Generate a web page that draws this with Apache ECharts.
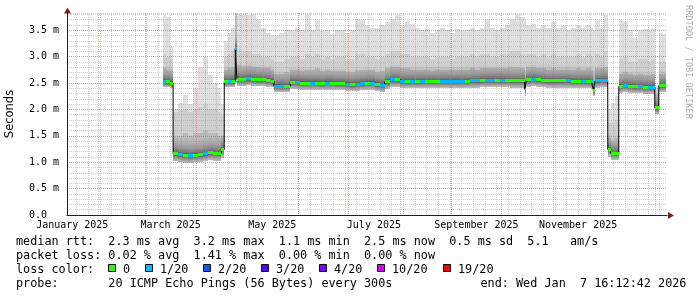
<!DOCTYPE html>
<html><head><meta charset="utf-8">
<script src="https://cdn.jsdelivr.net/npm/echarts@6/dist/echarts.min.js"></script>
<style>html,body{margin:0;padding:0;background:#fff}#c{width:697px;height:297px}</style>
</head><body><div id="c"></div>
<script>
// ---------- DATA (days since 2025-01-01 00:00 UTC, values in ms) ----------
const days = [70,72,74,76,79,82,85,88,91,94,97,100,103,105,106.7,109,111,113.3,114.3,117,
  120,123,126,129,132,135,136.5,139.5,142.5,146.3,149,152,155,158,161,164,167,170,173,176,
  179,182,185,188,191,194,197,200,203,206,209,212,215,218,221,224,227,230,233,236,
  239,242,245,248,251,254,257,260,263,266,269,272,275,278,281,284,287,288,291,294,
  297,300,303,306,309,312,315,318,321,324,327,328.2,329.2,332,334.5,336.8,338.5,341,343.4,346,
  349,352,355,358,361,363,365,367.4,369.5];
const endDay = 371.6;
const median = [2.53,2.52,2.50,1.16,1.14,1.13,1.12,1.13,1.14,1.16,1.18,1.17,1.17,1.24,2.53,2.53,2.53,3.15,2.57,2.57,
  2.58,2.57,2.56,2.56,2.55,2.53,2.44,2.44,2.44,2.51,2.51,2.50,2.50,2.50,2.50,2.49,2.50,2.50,2.49,2.49,
  2.48,2.47,2.48,2.49,2.50,2.50,2.47,2.46,2.52,2.56,2.56,2.53,2.53,2.53,2.53,2.53,2.53,2.53,2.53,2.53,
  2.53,2.53,2.53,2.53,2.53,2.54,2.54,2.55,2.55,2.55,2.55,2.55,2.55,2.54,2.54,2.54,2.38,2.56,2.57,2.56,
  2.55,2.54,2.54,2.54,2.54,2.54,2.53,2.53,2.53,2.53,2.52,2.36,2.54,2.55,2.55,1.24,1.17,1.17,2.44,2.45,
  2.44,2.43,2.43,2.42,2.42,2.42,2.03,2.45,2.45];
const loss = [1,0,0,0,1,0,1,0,0,1, 0,0,0,0,0,1,0,1,0,0, 1,0,0,0,0,0,1,1,0,0, 1,0,0,1,0,0,1,0,0,0,
  1,0,1,1,0,1,0,1,0,1, 0,1,0,1,0,1,0,0,0,1, 1,1,1,1,0,1,1,0,1,1, 0,1,0,0,0,0,1,0,1,0,
  0,0,0,0,0,1,0,0,1,0, 1,0,1,1,1,0,0,0,0,1, 0,0,1,0,1,1,0,0,0];
const smokeMax = [3.78,3.75,3.2,2.0,2.12,2.28,2.1,2.4,2.8,3.0,2.65,2.5,2.4,2.1,3.3,3.45,3.55,3.83,3.8,3.8,
  3.78,3.8,3.72,3.55,3.45,3.4,3.4,3.45,3.5,3.5,3.55,3.5,3.78,3.5,3.7,3.48,3.5,3.42,3.5,3.5,
  3.45,3.5,3.72,3.7,3.6,3.55,3.55,3.6,3.65,3.72,3.78,3.6,3.68,3.62,3.55,3.5,3.52,3.45,3.5,3.55,
  3.5,3.45,3.52,3.48,3.5,3.55,3.5,3.55,3.72,3.55,3.5,3.55,3.6,3.72,3.8,3.75,3.7,3.6,3.62,3.55,
  3.6,3.55,3.65,3.55,3.58,3.5,3.55,3.6,3.55,3.6,3.55,3.5,3.7,3.55,3.78,2.0,2.12,2.25,3.7,3.68,
  3.5,3.35,3.5,3.52,3.5,3.55,2.45,3.45,3.42];
const smokeMid = [3.05,3.0,2.95,1.95,1.98,2.0,1.95,2.0,2.05,2.1,2.0,2.0,1.95,1.9,3.0,3.05,3.1,3.83,3.15,3.1,
  3.1,3.05,3.05,3.0,3.0,2.95,2.9,2.9,2.95,3.0,3.0,2.95,3.05,3.0,3.05,2.95,3.0,2.95,3.0,3.0,
  2.95,2.95,3.05,3.05,3.0,3.0,2.95,3.0,3.05,3.1,3.1,3.05,3.05,3.0,3.0,3.0,3.0,2.95,3.0,3.0,
  3.0,2.95,3.0,3.0,3.0,3.05,3.0,3.05,3.05,3.0,3.0,3.05,3.05,3.1,3.1,3.05,3.0,3.05,3.05,3.0,
  3.05,3.0,3.05,3.0,3.0,3.0,3.0,3.05,3.0,3.05,3.0,2.95,3.05,3.0,3.1,1.75,1.75,1.8,2.95,3.0,
  2.9,2.9,2.95,2.95,2.9,2.95,2.4,2.9,2.9];
const smokeQ = [2.78,2.75,2.72,1.5,1.5,1.55,1.5,1.55,1.55,1.6,1.55,1.55,1.5,1.5,2.75,2.78,2.8,3.83,2.85,2.82,
  2.82,2.8,2.8,2.78,2.78,2.75,2.68,2.68,2.7,2.75,2.75,2.72,2.75,2.75,2.78,2.72,2.75,2.72,2.72,2.72,
  2.7,2.7,2.75,2.75,2.75,2.75,2.7,2.72,2.78,2.8,2.8,2.78,2.78,2.75,2.75,2.75,2.75,2.72,2.75,2.75,
  2.75,2.75,2.75,2.75,2.75,2.78,2.75,2.78,2.78,2.78,2.78,2.78,2.78,2.8,2.8,2.78,2.75,2.8,2.8,2.78,
  2.78,2.75,2.78,2.75,2.75,2.75,2.75,2.78,2.75,2.78,2.75,2.72,2.78,2.78,2.8,1.45,1.4,1.45,2.68,2.7,
  2.68,2.65,2.68,2.65,2.65,2.68,2.3,2.68,2.68];
const smokeMin = [2.42,2.42,2.4,1.02,1.0,0.99,0.99,1.0,1.0,1.02,1.04,1.03,1.03,1.08,2.42,2.42,2.42,2.5,2.45,2.45,
  2.46,2.45,2.44,2.44,2.43,2.42,2.33,2.33,2.33,2.38,2.38,2.37,2.37,2.37,2.37,2.36,2.37,2.37,2.36,2.36,
  2.35,2.34,2.35,2.36,2.37,2.37,2.34,2.33,2.39,2.43,2.43,2.4,2.4,2.4,2.4,2.4,2.4,2.4,2.4,2.4,
  2.4,2.4,2.4,2.4,2.4,2.41,2.41,2.42,2.42,2.42,2.42,2.42,2.42,2.41,2.41,2.41,2.25,2.43,2.44,2.43,
  2.42,2.41,2.41,2.41,2.41,2.41,2.4,2.4,2.4,2.4,2.39,2.25,2.41,2.42,2.42,1.1,1.04,1.04,2.32,2.33,
  2.32,2.31,2.31,2.3,2.3,2.3,1.92,2.33,2.33];

const yTickVals = [0,0.5,1,1.5,2,2.5,3,3.5];
const yTickLabels = ['0.0  ','0.5 m','1.0 m','1.5 m','2.0 m','2.5 m','3.0 m','3.5 m'];
const xLabelMonths = [0,2,4,6,8,10];
const xTickLabels = ['January 2025','March 2025','May 2025','July 2025','September 2025','November 2025'];

const lossLevels = [0,1,2,3,4,10,19];
const lossLabels = ['0','1/20','2/20','3/20','4/20','10/20','19/20'];
const lossColors = ['#26ff00','#00b8ff','#0059ff','#5e00ff','#7e00ff','#dd00ff','#ff0000'];

const statLines = [
  'median rtt:  2.3 ms avg  3.2 ms max  1.1 ms min  2.5 ms now  0.5 ms sd  5.1   am/s',
  'packet loss: 0.02 % avg  1.41 % max  0.00 % min  0.00 % now',
  'loss color:',
  'probe:       20 ICMP Echo Pings (56 Bytes) every 300s'
];
const endText = 'end: Wed Jan  7 16:12:42 2026';
const sideText = 'RRDTOOL / TOBI OETIKER';
const yName = 'Seconds';

// ---------- checks ----------
[median, loss, smokeMax, smokeMid, smokeQ, smokeMin].forEach((a, k) => {
  if (a.length !== days.length) throw new Error('array ' + k + ' length ' + a.length + ' vs ' + days.length);
});

// ---------- axis helpers ----------
const axisMin = 12.35, axisMax = 372.35, yMax = 3.826;
const dayOf = (y, m, d) => (Date.UTC(y, m, d) - Date.UTC(2025, 0, 1)) / 86400000;
const monthStarts = [], monthMids = [];
for (let k = 0; k < 14; k++) {
  const s = dayOf(2025, k, 1), e = dayOf(2025, k + 1, 1);
  monthStarts.push(s); monthMids.push((s + e) / 2);
}
const monthLines = monthStarts.filter(d => d > axisMin && d < axisMax);
const weekLines = [];
for (let d = 4; d < axisMax; d += 7) if (d > axisMin) weekLines.push(d);
const xLabelPos = xLabelMonths.map(k => monthMids[k]);

const MONO = 'DejaVu Sans Mono';
const GRID = 'rgba(150,150,150,0.45)';
const MGRID = 'rgba(222,79,79,0.45)';

function lossColor(v) {
  let c = lossColors[0];
  for (let i = 0; i < lossLevels.length; i++) if (v >= lossLevels[i]) c = lossColors[i];
  return c;
}

const rows = days.map((d, i) => [d, i + 1 < days.length ? days[i + 1] : endDay,
  smokeMin[i], smokeQ[i], smokeMid[i], smokeMax[i], median[i], loss[i]]);
const lineData = days.map((d, i) => [d, median[i]]).concat([[endDay, median[median.length - 1]]]);

function renderSmoke(params, api) {
  const x0 = Math.round(api.coord([api.value(0), 0])[0]);
  const x1 = Math.round(api.coord([api.value(1), 0])[0]);
  const Y = v => Math.round(api.coord([api.value(0), v])[1]);
  const yLo = Y(api.value(2)), yQ = Y(api.value(3)), yMid = Y(api.value(4)), yTop = Y(api.value(5));
  const yMed = api.coord([api.value(0), api.value(6)])[1];
  const w = x1 - x0;
  const rect = (ya, yb, fill) => ({ type: 'rect', shape: { x: x0, y: ya, width: w, height: Math.max(0, yb - ya) }, style: { fill } });
  const yA = Math.max(yTop, yMed - 16), yB = yLo;
  const h = Math.max(1, yB - yA);
  const off = y => Math.min(1, Math.max(0, (y - yA) / h));
  const grad = new echarts.graphic.LinearGradient(0, 0, 0, 1, [
    { offset: 0, color: 'rgba(130,130,130,0)' },
    { offset: off(yMed - 8), color: 'rgba(115,115,115,0.4)' },
    { offset: off(yMed - 2), color: 'rgba(80,80,80,0.75)' },
    { offset: off(yMed), color: 'rgba(50,50,50,0.9)' },
    { offset: off(yMed + 3), color: 'rgba(100,100,100,0.6)' },
    { offset: 1, color: 'rgba(190,190,190,0.25)' }
  ]);
  return { type: 'group', children: [
    rect(yTop, yLo, '#dfdfdf'), rect(yMid, yLo, '#cfcfcf'), rect(yQ, yLo, '#bababa'), rect(yA, yB, grad)
  ] };
}
function renderLoss(params, api) {
  const x0 = Math.round(api.coord([api.value(0), 0])[0]);
  const x1 = Math.round(api.coord([api.value(1), 0])[0]);
  const ym = api.coord([api.value(0), api.value(6)])[1];
  return { type: 'rect', shape: { x: x0, y: Math.round(ym - 1.5), width: x1 - x0, height: 3 },
    style: { fill: lossColor(api.value(7)) } };
}

// ---------- graphics (legend text) ----------
const FONT = '11.8px "' + MONO + '"';
const CW = 7.1;
const lineY = [241.5, 255.5, 269.5, 283.5];
const graphics = [];
statLines.forEach((t, i) => graphics.push({ type: 'text', x: 16, y: lineY[i], silent: true,
  style: { text: t, font: FONT, fill: '#000', align: 'left', verticalAlign: 'middle' } }));
let bx = 16 + 13 * CW;
lossLabels.forEach((lab, i) => {
  const x = Math.round(bx);
  graphics.push({ type: 'rect', silent: true, shape: { x: x + 0.5, y: 264.5, width: 7, height: 7 },
    style: { fill: lossColors[i], stroke: '#000', lineWidth: 1 } });
  graphics.push({ type: 'text', silent: true, x: x + 15, y: lineY[2],
    style: { text: lab, font: FONT, fill: '#000', align: 'left', verticalAlign: 'middle' } });
  bx = x + 15 + lab.length * CW + 15;
});
graphics.push({ type: 'text', silent: true, x: 480.5, y: lineY[3],
  style: { text: endText, font: FONT, fill: '#000', align: 'left', verticalAlign: 'middle' } });
graphics.push({ type: 'text', silent: true, x: 688, y: 5, rotation: -Math.PI / 2,
  style: { text: sideText, font: '8.6px "' + MONO + '"', fill: '#b0b0b0', align: 'left', verticalAlign: 'middle' } });
// axis arrows
graphics.push({ type: 'polygon', silent: true, shape: { points: [[668, 212], [674, 215.5], [668, 219]] }, style: { fill: '#801f1f' } });
graphics.push({ type: 'polygon', silent: true, shape: { points: [[64, 13.5], [67.5, 7.5], [71, 13.5]] }, style: { fill: '#801f1f' } });

const chart = echarts.init(document.getElementById('c'), null, { renderer: 'canvas' });
chart.setOption({
  animation: false,
  backgroundColor: '#ffffff',
  grid: { left: 67, top: 13, width: 600, height: 202, containLabel: false, outerBoundsMode: 'none' },
  xAxis: [
    { type: 'value', min: axisMin, max: axisMax, z: 2,
      axisLine: { show: false }, axisTick: { show: false, customValues: weekLines }, axisLabel: { show: false },
      splitLine: { show: true, lineStyle: { color: GRID, width: 1, type: [1, 1] } } },
    { type: 'value', min: axisMin, max: axisMax, z: 2, position: 'bottom',
      axisLine: { show: true, onZero: false, lineStyle: { color: '#1f1f1f', width: 1 } },
      axisTick: { show: false, customValues: monthLines },
      axisLabel: { show: true, customValues: xLabelPos, margin: 5, fontFamily: MONO, fontSize: 10, color: '#000',
        formatter: v => { const i = xLabelPos.indexOf(v); return i >= 0 ? xTickLabels[i] : ''; } },
      splitLine: { show: true, lineStyle: { color: MGRID, width: 1, type: [1, 1] } } }
  ],
  yAxis: [
    { type: 'value', min: 0, max: yMax, interval: 0.1, z: 2,
      axisLine: { show: false }, axisTick: { show: false }, axisLabel: { show: false },
      splitLine: { show: true, lineStyle: { color: GRID, width: 1, type: [1, 1] } },
      name: yName, nameLocation: 'middle', nameGap: 51, nameRotate: 90,
      nameTextStyle: { fontFamily: 'DejaVu Sans', fontSize: 11.5, color: '#000' } },
    { type: 'value', min: 0, max: yMax, z: 2, position: 'left',
      axisLine: { show: true, onZero: false, lineStyle: { color: '#1f1f1f', width: 1 } },
      axisTick: { show: false, customValues: yTickVals },
      axisLabel: { show: true, customValues: yTickVals, margin: 8, fontFamily: MONO, fontSize: 10, color: '#000',
        formatter: v => { const i = yTickVals.indexOf(v); return i >= 0 ? yTickLabels[i] : ''; } },
      splitLine: { show: true, lineStyle: { color: MGRID, width: 1, type: [1, 1] } } }
  ],
  series: [
    { type: 'custom', name: 'smoke', z: 1, clip: true, silent: true, renderItem: renderSmoke,
      encode: { x: [0, 1], y: [2, 5] }, data: rows },
    { type: 'line', name: 'median', z: 3, step: 'end', showSymbol: false, silent: true, clip: true,
      lineStyle: { color: '#000', width: 1 }, data: lineData },
    { type: 'custom', name: 'loss', z: 4, clip: true, silent: true, renderItem: renderLoss,
      encode: { x: [0, 1], y: 6 }, data: rows }
  ],
  graphic: graphics
});
</script></body></html>
